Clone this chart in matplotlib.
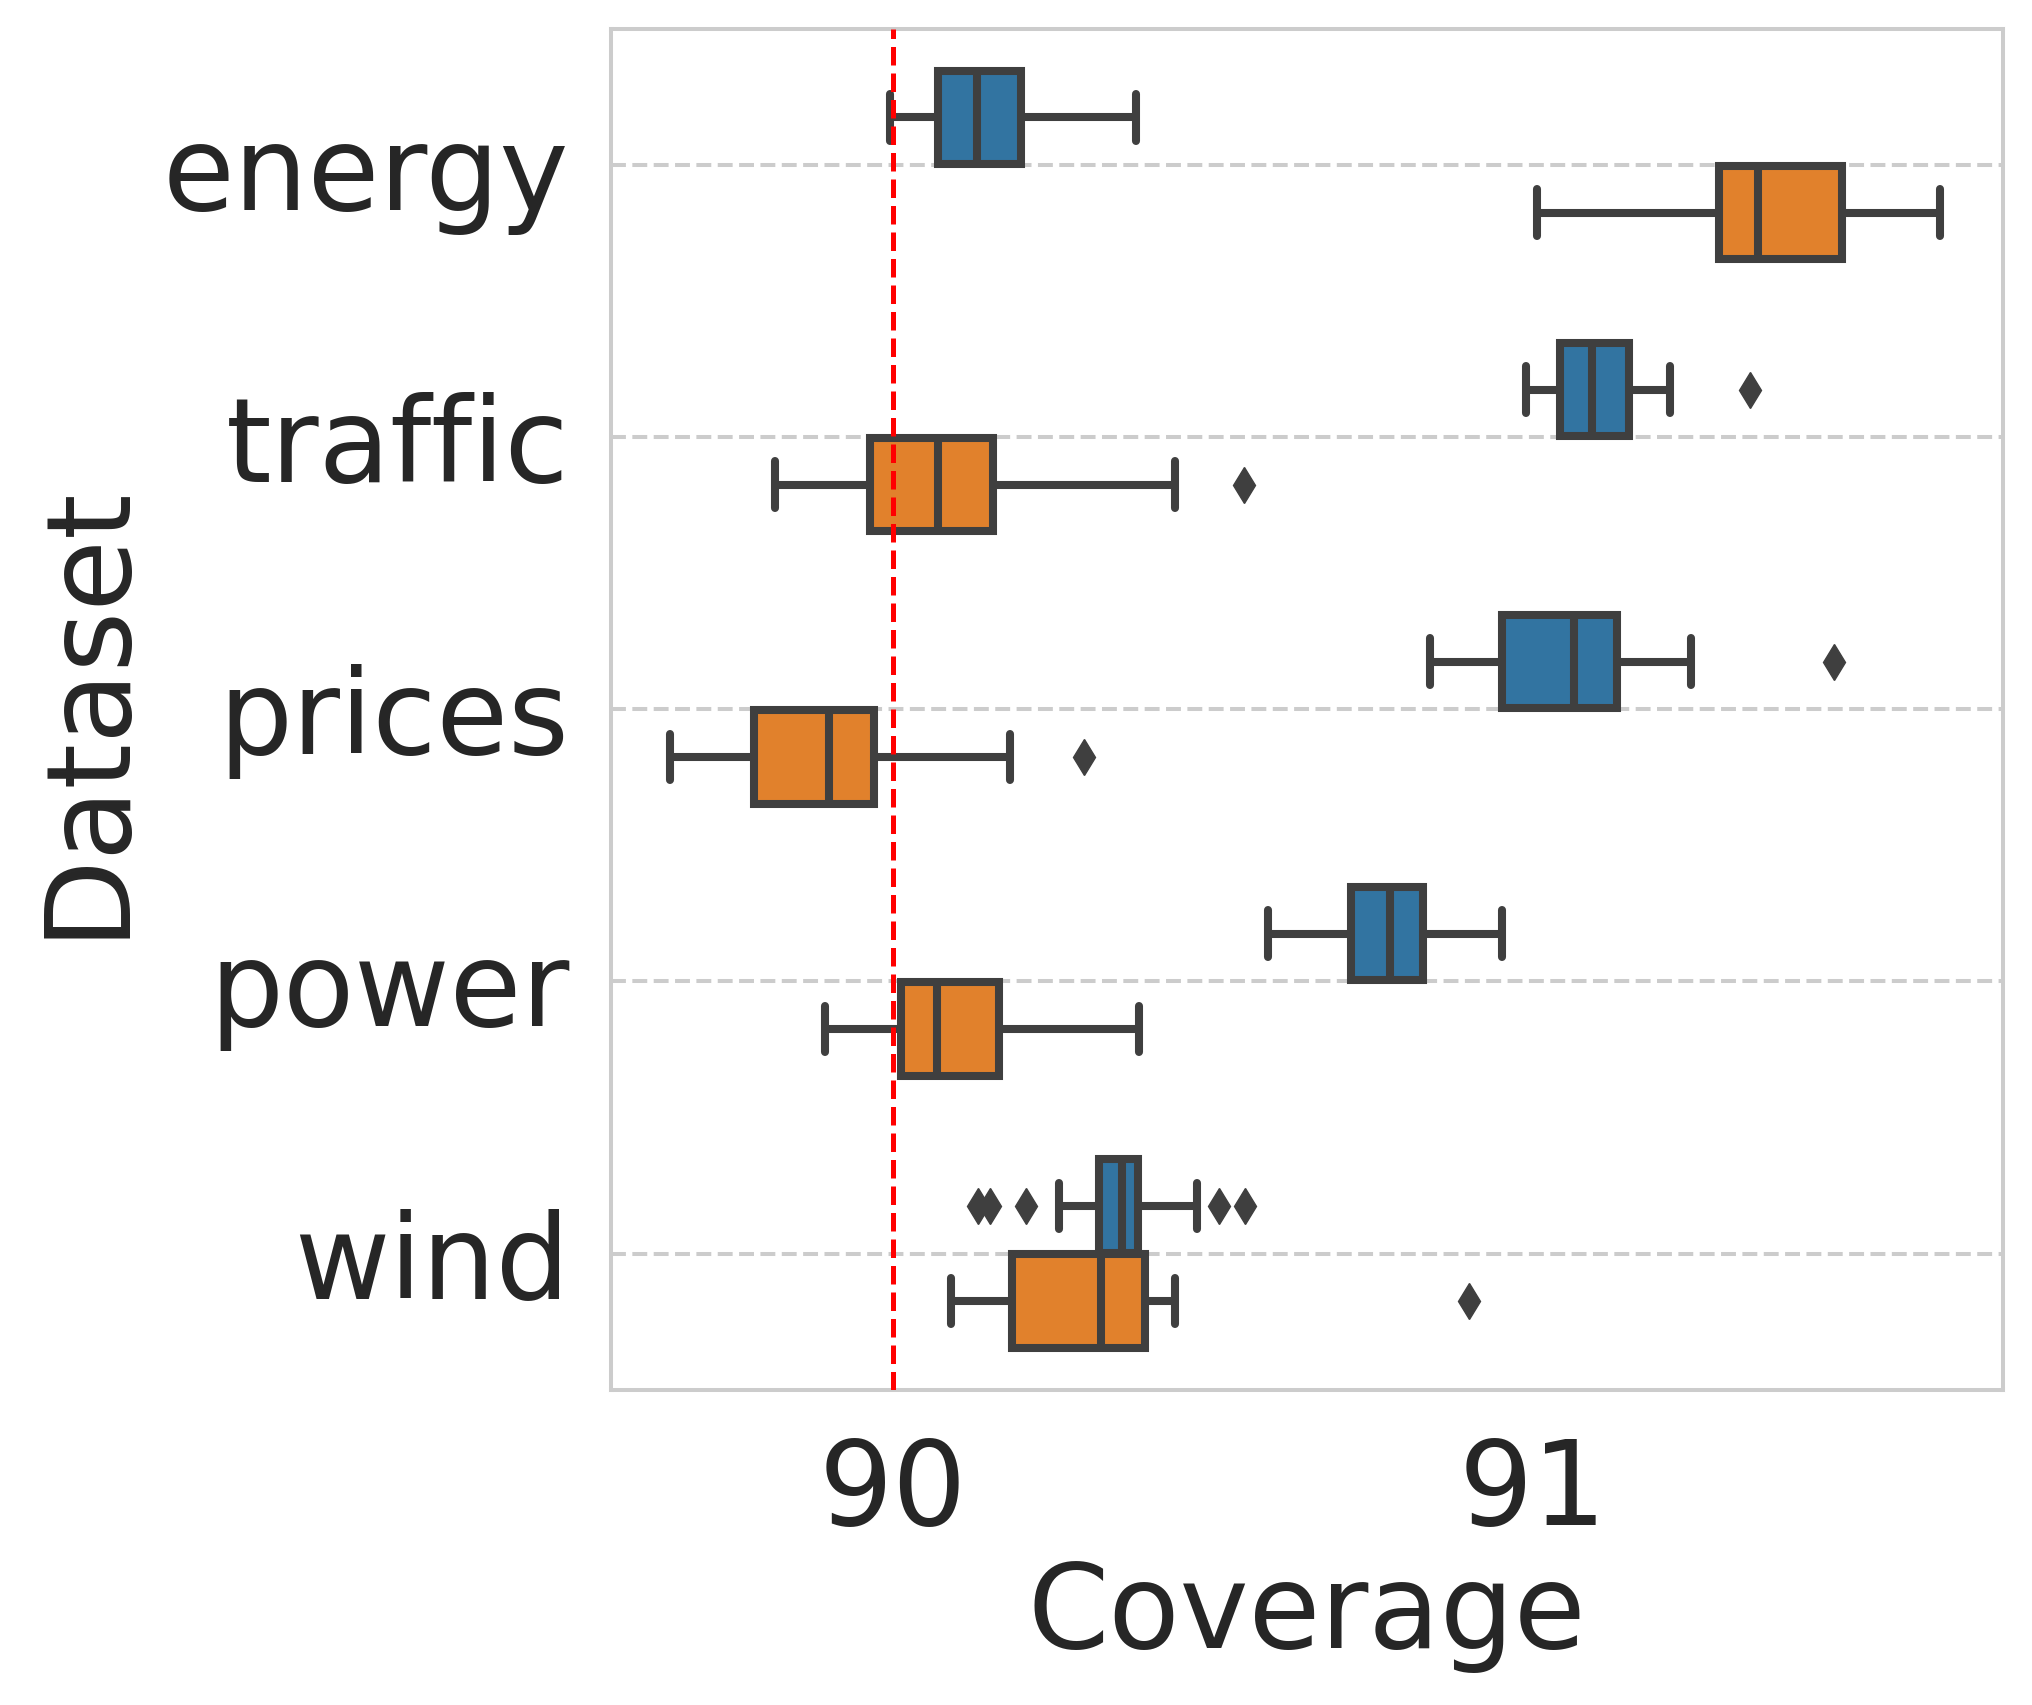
import matplotlib
matplotlib.use("Agg")
import matplotlib.pyplot as plt

# ---- data ----
datasets = ["energy", "traffic", "prices", "power", "wind"]

# series A (blue)
a_whislo = [89.995, 90.989, 90.839, 90.586, 90.259]
a_q1     = [90.070, 91.042, 90.951, 90.716, 90.321]
a_med    = [90.131, 91.092, 91.064, 90.777, 90.358]
a_q3     = [90.200, 91.150, 91.131, 90.828, 90.382]
a_whishi = [90.379, 91.213, 91.246, 90.952, 90.475]
a_fliers = [[], [91.338], [91.470], [], [90.133, 90.151, 90.208, 90.509, 90.549]]

# series B (orange)
b_whislo = [91.006, 89.816, 89.651, 89.893, 90.090]
b_q1     = [91.291, 89.964, 89.782, 90.012, 90.185]
b_med    = [91.351, 90.070, 89.900, 90.068, 90.325]
b_q3     = [91.482, 90.156, 89.970, 90.165, 90.394]
b_whishi = [91.636, 90.440, 90.183, 90.384, 90.441]
b_fliers = [[], [90.548], [90.298], [], [90.900]]

target = 90.0
xticks = [90, 91]

# ---- style ----
plt.rcParams["font.family"] = ["DejaVu Sans"]
plt.rcParams["lines.solid_capstyle"] = "round"

DPI = 200
fig = plt.figure(figsize=(2032 / DPI, 1705 / DPI), dpi=DPI)
ax = fig.add_axes([0.3007, 0.1850, 0.6850, 0.7980])

gray = "#3f3f3f"
blue = "#3274a1"
orange = "#e1812c"
lw = 2.9
fs = 42


def make_stats(whislo, q1, med, q3, whishi, fliers):
    return [dict(whislo=wl, q1=a, med=m, q3=b, whishi=wh, fliers=f)
            for wl, a, m, b, wh, f in zip(whislo, q1, med, q3, whishi, fliers)]


def draw(stats, offset, color):
    pos = [i + offset for i in range(len(stats))]
    kw = dict(positions=pos, widths=0.343, patch_artist=True,
              boxprops=dict(facecolor=color, edgecolor=gray, linewidth=lw),
              medianprops=dict(color=gray, linewidth=lw),
              whiskerprops=dict(color=gray, linewidth=lw),
              capprops=dict(color=gray, linewidth=lw),
              flierprops=dict(marker="d", markerfacecolor=gray, markeredgecolor=gray,
                              markersize=9.0, markeredgewidth=0.5, linestyle="none"),
              manage_ticks=False)
    try:
        ax.bxp(stats, orientation="horizontal", **kw)
    except TypeError:
        ax.bxp(stats, vert=False, **kw)


draw(make_stats(a_whislo, a_q1, a_med, a_q3, a_whishi, a_fliers), -0.175, blue)
draw(make_stats(b_whislo, b_q1, b_med, b_q3, b_whishi, b_fliers), 0.175, orange)

ax.axvline(target, color="red", linestyle="--", linewidth=1.8, zorder=5)

ax.set_xlim(89.559, 91.734)
ax.set_ylim(len(datasets) - 0.5, -0.5)
ax.set_yticks(range(len(datasets)))
ax.set_yticklabels(datasets)
ax.set_xticks(xticks)
ax.set_xticklabels([str(t) for t in xticks])

ax.set_axisbelow(True)
ax.yaxis.grid(True, linestyle="--", color="#cccccc", linewidth=1.45)
ax.xaxis.grid(False)
for s in ax.spines.values():
    s.set_color("#cccccc")
    s.set_linewidth(1.45)

ax.tick_params(axis="both", length=0, labelsize=fs, colors="#262626")
ax.tick_params(axis="y", pad=15)
ax.tick_params(axis="x", pad=16.5)
ax.set_xlabel("Coverage", fontsize=fs, color="#262626", labelpad=2.6)
ax.set_ylabel("Dataset", fontsize=fs, color="#262626", labelpad=6.5)

fig.savefig("out.png", dpi=DPI)
